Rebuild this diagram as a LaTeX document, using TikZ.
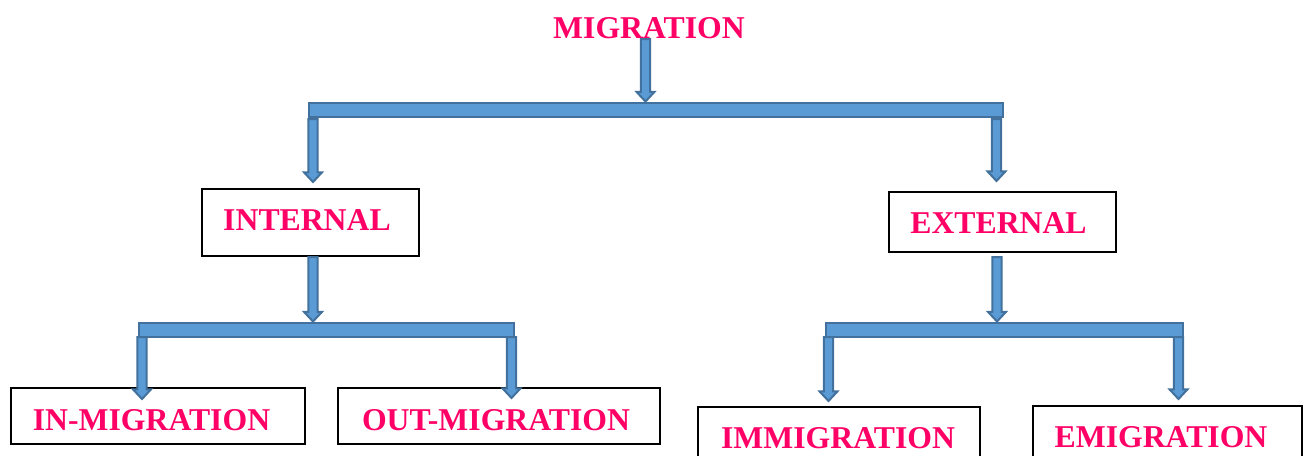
\documentclass[tikz,border=0pt]{standalone}
\usepackage{fontspec}
\setmainfont{Liberation Serif}
\usetikzlibrary{calc}
\definecolor{pinktxt}{HTML}{FF0066}
\definecolor{blkfill}{HTML}{5B9BD5}
\definecolor{blkline}{HTML}{41719C}
\newcommand{\barrow}[2]{\draw[blk] let \p1=(#1), \p2=(#2) in (\x1-3.4pt,\y1) -- (\x1+3.4pt,\y1) -- (\x1+3.4pt,\y2+7.2pt) -- (\x1+6.7pt,\y2+7.2pt) -- (\x1,\y2) -- (\x1-6.7pt,\y2+7.2pt) -- (\x1-3.4pt,\y2+7.2pt) -- cycle;}
\begin{document}
\begin{tikzpicture}[x=0.75pt,y=-0.75pt,
  blk/.style={fill=blkfill,draw=blkline,line width=1.5pt,line join=miter},
  barbox/.style={rectangle,fill=blkfill,draw=blkline,line width=1.5pt,inner sep=0pt,minimum height=10.5pt},
  box/.style={rectangle,draw=black,fill=white,line width=1.3pt,inner sep=0pt},
  lbl/.style={text=pinktxt,font=\fontsize{23.8}{28}\selectfont\bfseries,inner sep=0pt,anchor=base}]
\clip (0,0) rectangle (1306,455);
\fill[white] (0,0) rectangle (1306,455);
% boxes
\node[box,minimum width=162.75pt,minimum height=50.25pt] (internal) at (310.5,222.5) {};
\node[box,minimum width=170.25pt,minimum height=45pt] (external) at (1002.5,222) {};
\node[box,minimum width=220.5pt,minimum height=42pt] (inmig) at (158,416) {};
\node[box,minimum width=241.5pt,minimum height=42pt] (outmig) at (499,416) {};
\node[box,minimum width=211.5pt,minimum height=47.25pt] (immig) at (839,438.5) {};
\node[box,minimum width=201.75pt,minimum height=48pt] (emig) at (1167.5,438) {};
% labels
\node[lbl] (migration) at (649,38) {MIGRATION};
\node[lbl] (tinternal) at (307,230) {INTERNAL};
\node[lbl] (texternal) at (998.5,233) {EXTERNAL};
\node[lbl] (tinmig) at (151.5,430) {IN-MIGRATION};
\node[lbl] (toutmig) at (496,430) {OUT-MIGRATION};
\node[lbl] (timmig) at (838,448) {IMMIGRATION};
\node[lbl] (temig) at (1161,447) {EMIGRATION};
% bars
\node[barbox,minimum width=520.5pt] (bartop) at (655.5,109.5) {};
\node[barbox,minimum width=281.25pt] (barleft) at (326,329.5) {};
\node[barbox,minimum width=267.75pt] (barright) at (1004,329.5) {};
% arrow anchor points
\coordinate (a1) at (645.5,39);
\coordinate (a2) at (313,119);  \coordinate (a2t) at (313,182);
\coordinate (a3) at (996.5,119); \coordinate (a3t) at (996.5,181);
\coordinate (a4) at (313,257);
\coordinate (a5) at (997,257);
\coordinate (a6) at (142,337);   \coordinate (a6t) at (142,399);
\coordinate (a7) at (511.5,337); \coordinate (a7t) at (511.5,398);
\coordinate (a8) at (828.5,337); \coordinate (a8t) at (828.5,401);
\coordinate (a9) at (1178.5,337); \coordinate (a9t) at (1178.5,399);
% arrows
\barrow{a1}{a1 |- bartop.north}
\barrow{a2}{a2t}
\barrow{a3}{a3t}
\barrow{a4}{a4 |- barleft.north}
\barrow{a5}{a5 |- barright.north}
\barrow{a6}{a6t}
\barrow{a7}{a7t}
\barrow{a8}{a8t}
\barrow{a9}{a9t}
\end{tikzpicture}
\end{document}
